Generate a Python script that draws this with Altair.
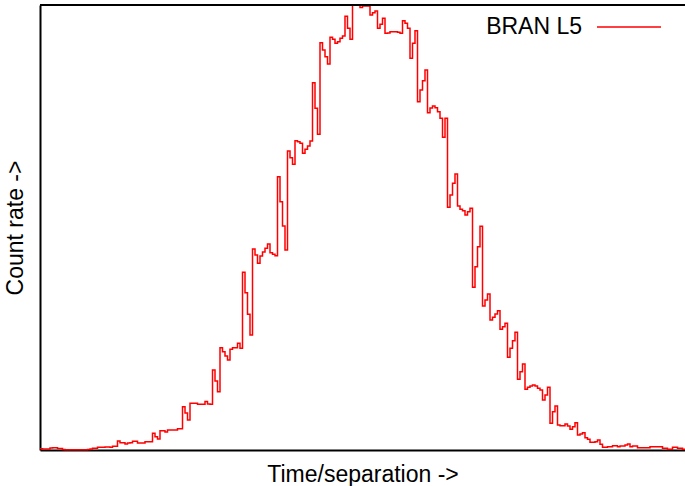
import altair as alt
import pandas as pd

# Histogram counts per bin (arbitrary units)
counts = [
    1.3, 1, 1, 1, 2, 2.3, 2.3, 1.5, 1.5, 0.5,
    0.3, 0.3, 0.3, 0.3, 0.3, 0.3, 0.3, 0.3, 0.3, 0.5,
    1, 1.7, 1.7, 2.7, 2.7, 2.7, 3, 3, 2.7, 3.7,
    3.7, 9, 7.3, 7.3, 6, 7, 7.3, 8.7, 8.7, 7,
    7, 7, 8.3, 8.3, 8.3, 16.7, 13.3, 11, 19.3, 19.3,
    18, 20, 20, 20, 20, 21.3, 21.3, 43.3, 37, 30,
    46.7, 46.7, 46.7, 45.7, 45.7, 45.7, 48.5, 46, 45.7, 80,
    69, 58.3, 102.3, 98.3, 94, 90, 100.7, 102.3, 102.3, 106.7,
    101.7, 177.7, 157.3, 135.7, 115, 201, 195, 186.7, 194, 198,
    201.7, 206, 197.3, 195.7, 194.3, 273.3, 248.3, 224, 200, 299,
    292.3, 285.7, 309.3, 308.3, 306.7, 296.7, 300.7, 304, 309, 367.3,
    341.7, 315.7, 407.3, 400, 393.3, 386, 412.7, 410.7, 406.7, 408.3,
    411.7, 414, 433.7, 421.7, 410.7, 445, 445, 445, 442.5, 444,
    444, 444, 435, 437.3, 439, 421.7, 425.7, 431.7, 416.7, 417,
    418.3, 418.3, 418.3, 417.7, 416.7, 429.3, 426.7, 421.7, 391.7, 406.7,
    419.3, 348.3, 360, 369.3, 380, 337.3, 342, 344, 342.3, 338.3,
    331.7, 312.7, 331.7, 242.7, 255, 266.7, 276, 244, 240.7, 239.3,
    235, 238.3, 241.7, 162.7, 183.3, 203.3, 223.7, 144, 150, 156,
    130, 132.7, 136, 139.3, 120.7, 123.3, 126.7, 92.7, 101.7, 109.3,
    117.7, 70.7, 78.3, 86, 60.7, 62.7, 64, 65, 64, 61.7,
    60, 50, 55, 62.7, 26.7, 38.3, 44, 25, 24.3, 24.3,
    26, 24, 20.7, 23.3, 27.3, 15, 16, 17.3, 12.3, 10.7,
    7.7, 7.7, 8.3, 10, 5.7, 2.7, 2.7, 3.3, 3.3, 4.3,
    4.3, 3.3, 4, 4, 5, 6, 3.3, 4, 4, 2.3,
    2.3, 2.3, 2.3, 2.3, 3.3, 3.3, 3.3, 3.3, 3.3, 1.7,
    1.7, 0.7, 0.7, 2.7, 2.7, 1.7, 1.7, 0.7,
]
series_name = ["BRAN L5"]
y_max = 445

n_bins = len(counts)
bin_start = list(range(n_bins)) + [n_bins]
step_values = counts + [counts[-1]]
df = pd.DataFrame({"t": bin_start, "count": step_values})
legend_df = pd.DataFrame({"name": series_name})

W, H = 645, 445
FONT = "Liberation Sans"
FS = 23

line = alt.Chart(df).mark_line(
    interpolate="step-after", color="#ff0000", strokeWidth=1.5
).encode(
    x=alt.X("t:Q", scale=alt.Scale(domain=[0, n_bins], nice=False, zero=False),
            axis=alt.Axis(title="Time/separation ->", labels=False, ticks=False,
                          grid=False, domainColor="black", domainWidth=2,
                          titleFont=FONT, titleFontSize=FS, titleFontWeight="normal",
                          titleColor="black", titlePadding=13)),
    y=alt.Y("count:Q", scale=alt.Scale(domain=[0, y_max], nice=False),
            axis=alt.Axis(title="Count rate ->", labels=False, ticks=False,
                          grid=False, domainColor="black", domainWidth=2,
                          titleFont=FONT, titleFontSize=FS, titleFontWeight="normal",
                          titleColor="black", titlePadding=13)),
)

top_border = alt.Chart(legend_df).mark_rule(color="black", strokeWidth=2).encode(
    x=alt.value(0), x2=alt.value(W), y=alt.value(0)
)

legend_text = alt.Chart(legend_df).mark_text(
    align="right", baseline="middle", font=FONT, fontSize=FS, color="black"
).encode(text="name:N", x=alt.value(542), y=alt.value(22))

legend_line = alt.Chart(legend_df).mark_rule(color="#ff0000", strokeWidth=1.5).encode(
    x=alt.value(557), x2=alt.value(621), y=alt.value(22)
)

chart = alt.layer(line, top_border, legend_text, legend_line).properties(
    width=W, height=H,
    padding={"left": 40, "top": 5, "right": 0, "bottom": 36},
    autosize=alt.AutoSizeParams(type="none"),
    background="white",
).configure_view(strokeWidth=0)

chart.save("out.html", embed_options={"renderer": "svg", "actions": False})
